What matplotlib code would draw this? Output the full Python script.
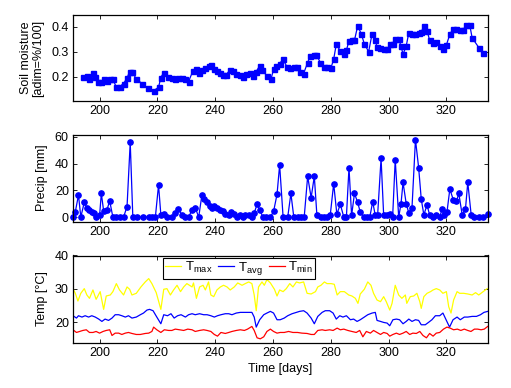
import matplotlib
matplotlib.use("Agg")
import matplotlib.pyplot as plt

plt.rcParams['font.family'] = ['Liberation Sans', 'DejaVu Sans']
plt.rcParams['font.size'] = 9
plt.rcParams['mathtext.fontset'] = 'custom'
plt.rcParams['mathtext.rm'] = 'Liberation Sans'

# ---------------- data ----------------
soil_day = [194.2, 195.6, 196.5, 197.6, 198.5, 199.4, 200.5, 201.4, 202.5, 203.5, 204.6, 205.8, 206.9,
            208.3, 209.5, 210.4, 211.3, 212.7, 214.7, 216.6, 218.7, 220.4, 221.2, 222.2, 223.5, 225.0,
            226.2, 227.3, 228.5, 229.7, 230.8, 232.3, 233.3, 234.3, 235.4, 236.6, 237.7, 238.5, 239.5,
            240.6, 241.5, 242.7, 243.8, 245.0, 246.2, 247.3, 248.5, 249.6, 250.8, 251.9, 253.1, 254.2,
            255.4, 256.2, 257.9, 259.3, 260.2, 261.2, 262.3, 263.5, 264.8, 266.0, 267.2, 268.3, 269.2,
            270.6, 272.0, 272.9, 274.1, 275.0, 276.4, 277.8, 278.7, 280.1, 281.0, 281.9, 283.3, 284.5,
            285.4, 286.3, 287.3, 288.2, 289.3, 290.5, 291.6, 293.1, 294.3, 295.4, 296.0, 297.2, 298.3,
            299.5, 300.6, 301.5, 302.3, 303.5, 304.3, 305.0, 306.1, 307.0, 308.1, 309.3, 310.4, 311.3,
            312.2, 313.3, 314.2, 315.4, 316.5, 317.7, 318.8, 320.0, 321.2, 322.4, 323.5, 324.6, 325.8,
            326.9, 328.1, 328.9, 331.2, 332.7]
soil_val = [0.200, 0.204, 0.190, 0.217, 0.200, 0.178, 0.178, 0.190, 0.184, 0.190, 0.190, 0.158, 0.160,
            0.173, 0.195, 0.221, 0.221, 0.190, 0.173, 0.155, 0.144, 0.158, 0.197, 0.217, 0.200, 0.197,
            0.190, 0.195, 0.195, 0.190, 0.181, 0.224, 0.230, 0.217, 0.226, 0.234, 0.244, 0.246, 0.230,
            0.224, 0.217, 0.208, 0.208, 0.226, 0.224, 0.213, 0.208, 0.200, 0.213, 0.217, 0.204, 0.221,
            0.244, 0.226, 0.204, 0.190, 0.230, 0.244, 0.253, 0.270, 0.240, 0.237, 0.240, 0.240, 0.221,
            0.213, 0.257, 0.283, 0.287, 0.287, 0.257, 0.240, 0.240, 0.237, 0.270, 0.330, 0.303, 0.293,
            0.306, 0.343, 0.346, 0.346, 0.403, 0.373, 0.332, 0.300, 0.372, 0.346, 0.319, 0.314, 0.310,
            0.310, 0.330, 0.330, 0.350, 0.350, 0.323, 0.290, 0.323, 0.376, 0.370, 0.373, 0.376, 0.379,
            0.403, 0.385, 0.346, 0.336, 0.340, 0.323, 0.310, 0.327, 0.370, 0.393, 0.393, 0.389, 0.389,
            0.406, 0.406, 0.356, 0.317, 0.297]

precip_day = [190.8, 191.6, 192.7, 193.5, 194.7, 195.6, 196.5, 197.3, 198.2, 198.8, 200.0, 200.6, 201.4,
              202.5, 203.5, 204.6, 205.8, 207.2, 208.3, 209.5, 210.6, 211.5, 212.9, 215.0, 217.0, 218.1,
              219.3, 220.4, 221.2, 222.2, 223.3, 225.0, 226.2, 227.3, 228.5, 229.7, 230.8, 232.0, 233.1,
              234.3, 235.4, 236.2, 237.2, 238.1, 238.9, 239.7, 240.6, 241.5, 242.7, 243.5, 244.7, 245.5,
              246.4, 247.5, 248.5, 249.6, 250.4, 251.6, 252.7, 253.5, 254.5, 255.4, 256.5, 257.7, 259.1,
              260.2, 261.4, 262.3, 263.5, 265.1, 266.2, 267.2, 268.5, 269.7, 270.8, 272.0, 273.2, 274.3,
              275.2, 276.6, 277.8, 278.7, 279.8, 281.0, 282.1, 283.3, 284.5, 285.4, 286.3, 287.2, 288.2,
              289.3, 290.2, 291.4, 292.5, 293.5, 294.5, 295.4, 296.2, 297.4, 298.3, 299.5, 300.6, 301.4,
              302.3, 303.5, 304.3, 305.0, 306.1, 307.0, 308.1, 309.3, 310.4, 311.3, 312.2, 313.3, 314.2,
              315.4, 316.5, 317.7, 318.5, 319.3, 320.2, 321.2, 322.4, 323.5, 324.3, 325.5, 326.6, 327.4,
              328.6, 329.5, 331.2, 332.7, 334.3]
precip_val = [0, 4, 16.5, 0, 11, 7, 5.4, 3.7, 3, 0, 1.2, 17.7, 4.7,
              5.2, 12, 0, 0, 0, 0, 7.9, 56, 0, 0, 0, 0, 0,
              0, 24, 1.7, 2.2, 0, 0, 3, 6, 1.7, 0, 0, 5.4, 7,
              0, 16.5, 13.5, 11, 8.4, 7, 8.6, 7, 5.4, 4.2, 2.2, 1.2, 3.7,
              2.2, 0, 1.7, 0, 1.7, 1.2, 0, 3, 9.6, 5.4, 0, 0, 0,
              4.2, 17, 39, 0, 0, 17.7, 0, 0, 0, 0, 30.5, 14.5, 30.5,
              1.2, 0, 0, 0, 1.2, 25, 2.2, 9.6, 0, 0, 37, 1.2, 17.7,
              11, 3.7, 0, 0, 0, 11.5, 1.2, 1.2, 44, 1.2, 1.2, 2.2, 0,
              43, 0, 10, 26, 10, 3, 7, 58, 37, 13.5, 1.7, 9, 1.7,
              0, 1.2, 0, 6, 1.2, 3.7, 21, 12.8, 12, 17.7, 1.2, 6, 26,
              1.2, 0, 0, 0, 2.2]

tmax_day = [190.8, 191.6, 192.5, 193.5, 194.7, 195.6, 196.5, 197.7, 198.8, 200.2, 201.4, 202.3, 203.7,
            204.6, 205.8, 206.9, 208.3, 209.5, 210.4, 211.2, 212.7, 214.3, 215.8, 217.0, 218.1, 219.6,
            221.2, 222.2, 223.3, 224.5, 225.6, 226.8, 228.0, 229.1, 230.2, 232.0, 232.5, 233.5, 234.6,
            235.8, 236.6, 237.7, 238.5, 239.5, 240.6, 241.8, 242.9, 244.1, 245.2, 246.6, 247.8, 249.3,
            250.4, 251.6, 252.7, 253.5, 254.2, 255.0, 256.2, 257.0, 257.9, 259.1, 260.5, 261.4, 262.3,
            263.5, 264.6, 265.8, 266.9, 268.1, 269.2, 270.6, 271.8, 273.2, 274.7, 275.5, 276.6, 277.8,
            278.7, 280.1, 281.2, 282.2, 283.3, 284.7, 286.2, 287.3, 288.5, 289.4, 290.2, 291.6, 292.8,
            293.9, 294.8, 296.0, 297.2, 298.3, 299.2, 300.4, 301.2, 302.3, 303.5, 304.6, 305.8, 306.3,
            307.5, 308.7, 309.8, 310.8, 311.3, 312.2, 313.3, 314.5, 315.4, 316.5, 317.7, 318.8, 320.0,
            320.8, 321.6, 322.5, 323.7, 324.6, 326.0, 327.4, 328.9, 330.1, 331.2, 332.7, 334.1]
tmax_val = [30.1, 28.7, 26.4, 28.7, 30.1, 28.2, 27.2, 29.7, 26.9, 29.2, 23.9, 27.9, 28.2,
            29.2, 31.6, 29.7, 28.2, 30.6, 29.9, 28.2, 28.7, 30.6, 32.1, 33.1, 31.6, 28.9,
            23.9, 29.9, 30.1, 28.2, 29.7, 31.1, 29.2, 30.6, 31.6, 30.6, 31.8, 27.2, 30.6,
            31.1, 29.7, 32.1, 28.2, 27.7, 29.7, 30.6, 31.1, 30.6, 29.7, 30.6, 31.8, 31.1,
            31.6, 32.1, 31.6, 28.2, 23.5, 30.6, 32.1, 31.1, 32.8, 31.8, 29.9, 27.9, 29.7,
            29.2, 30.1, 31.6, 30.6, 32.1, 31.8, 32.1, 28.7, 28.5, 29.2, 30.6, 31.1, 32.1,
            31.6, 31.6, 31.4, 28.2, 29.2, 29.2, 28.2, 27.9, 27.2, 25.7, 28.5, 29.9, 32.1,
            31.1, 28.7, 26.7, 26.2, 27.7, 26.2, 23.7, 25.7, 31.1, 28.2, 27.2, 28.2, 25.7,
            27.7, 27.9, 28.7, 26.2, 24.2, 27.7, 28.7, 29.2, 29.7, 30.1, 29.7, 28.7, 29.2,
            24.7, 22.8, 26.7, 29.2, 28.7, 28.7, 28.5, 28.2, 28.9, 28.2, 29.2, 30.1]

tavg_day = [190.8, 192.0, 192.7, 193.9, 195.0, 196.2, 197.3, 198.5, 199.7, 200.8, 201.9, 203.1, 204.3,
            205.4, 206.6, 207.7, 208.9, 210.0, 211.2, 212.7, 214.1, 215.2, 216.4, 217.3, 218.5, 219.8,
            221.2, 222.2, 223.5, 224.7, 225.8, 227.0, 228.2, 229.7, 230.8, 232.0, 233.1, 234.6, 236.0,
            237.2, 238.5, 239.7, 240.8, 242.0, 243.5, 244.7, 245.8, 247.3, 248.7, 249.8, 251.2, 252.7,
            253.5, 254.2, 255.4, 256.8, 257.9, 259.1, 260.2, 261.4, 262.5, 263.9, 265.1, 266.6, 268.1,
            269.2, 270.6, 271.8, 273.2, 274.3, 275.5, 277.0, 278.1, 279.6, 280.8, 281.9, 283.1, 284.2,
            285.4, 286.8, 287.9, 289.1, 290.2, 291.6, 292.8, 294.3, 295.4, 296.0, 297.2, 298.3, 299.5,
            300.4, 301.5, 302.7, 303.8, 305.0, 306.1, 307.0, 308.1, 309.3, 310.4, 311.3, 312.7, 313.8,
            315.0, 316.2, 317.7, 318.8, 320.0, 321.1, 322.3, 323.7, 324.8, 326.2, 327.4, 328.9, 330.4,
            331.8, 333.0, 334.3]
tavg_val = [22.0, 21.3, 22.0, 21.6, 22.0, 21.6, 22.0, 21.6, 21.0, 20.3, 21.0, 20.6, 21.3,
            22.3, 22.3, 22.0, 21.6, 22.0, 21.3, 21.6, 22.3, 22.8, 23.7, 23.9, 23.5, 21.6,
            19.6, 22.3, 22.0, 22.6, 21.3, 22.0, 22.3, 21.6, 22.3, 22.6, 22.3, 22.6, 22.3,
            22.3, 22.0, 21.6, 22.0, 22.3, 22.6, 22.6, 22.3, 22.8, 23.0, 23.0, 23.0, 23.0,
            21.6, 18.6, 20.8, 22.3, 22.8, 23.3, 22.8, 20.8, 20.8, 21.3, 22.0, 22.6, 23.0,
            23.3, 23.5, 22.8, 21.3, 19.6, 21.8, 23.0, 23.5, 23.5, 22.8, 21.0, 22.0, 21.6,
            22.0, 20.8, 21.0, 20.3, 20.8, 21.6, 22.3, 22.8, 23.0, 20.6, 20.3, 20.0, 19.8,
            19.0, 20.8, 21.0, 20.8, 19.6, 20.3, 21.0, 20.3, 20.8, 20.6, 19.3, 19.3, 20.0,
            20.8, 22.0, 22.0, 22.8, 20.6, 18.6, 20.8, 21.6, 20.8, 21.6, 21.6, 21.8, 21.8,
            22.3, 23.0, 23.3]

tmin_day = [190.8, 192.0, 193.1, 194.2, 195.4, 196.5, 197.7, 198.8, 200.0, 201.2, 202.3, 203.5, 204.3,
            205.4, 206.6, 207.7, 208.9, 210.0, 211.2, 212.7, 214.1, 215.8, 217.0, 218.1, 218.7, 219.8,
            221.2, 222.4, 223.9, 225.0, 226.2, 227.7, 229.1, 230.5, 232.0, 233.1, 234.6, 236.0, 237.2,
            238.5, 239.7, 240.8, 242.0, 243.5, 244.7, 245.8, 247.3, 248.7, 250.1, 251.2, 252.7, 253.5,
            254.5, 255.6, 256.8, 257.9, 259.1, 260.2, 261.4, 262.5, 263.9, 265.4, 266.9, 268.5, 270.0,
            271.8, 273.2, 274.3, 275.5, 277.0, 278.1, 279.6, 280.8, 282.2, 283.3, 284.5, 285.9, 287.3,
            288.8, 290.0, 291.1, 292.3, 293.7, 294.8, 296.0, 297.2, 298.3, 299.5, 300.4, 301.5, 302.7,
            303.8, 305.0, 306.1, 307.3, 308.4, 309.6, 310.8, 311.9, 313.1, 314.2, 315.4, 316.5, 317.7,
            319.0, 320.2, 321.3, 322.5, 323.8, 325.0, 326.2, 327.4, 328.5, 329.7, 330.8, 332.0, 333.1,
            334.3]
tmin_val = [17.8, 17.0, 17.3, 17.6, 17.8, 17.0, 17.0, 17.3, 16.8, 17.3, 17.6, 17.8, 16.1,
            16.8, 16.8, 16.4, 16.8, 17.0, 16.7, 16.4, 16.4, 16.7, 16.8, 17.3, 18.6, 17.8,
            17.0, 17.8, 17.6, 17.6, 18.0, 17.8, 17.6, 18.0, 17.8, 17.3, 17.6, 17.8, 17.6,
            17.3, 16.4, 15.9, 17.0, 16.7, 17.0, 17.3, 17.6, 17.8, 17.6, 18.0, 18.8, 17.6,
            15.4, 15.1, 15.7, 17.3, 18.0, 17.3, 16.8, 17.0, 17.0, 17.3, 17.0, 17.0, 16.8,
            16.7, 16.4, 16.4, 17.6, 17.8, 17.6, 17.8, 17.6, 18.3, 17.8, 18.0, 17.6, 17.3,
            17.0, 17.6, 15.7, 17.3, 16.8, 17.6, 17.0, 16.4, 17.0, 16.7, 15.9, 16.4, 16.8,
            16.4, 16.8, 17.3, 16.4, 16.8, 16.7, 17.3, 16.1, 15.4, 16.7, 15.9, 16.8, 17.0,
            18.0, 18.6, 18.3, 17.8, 18.0, 17.6, 18.0, 17.6, 17.3, 18.0, 18.0, 17.8, 18.0,
            18.8]

x_ticks = [200, 220, 240, 260, 280, 300, 320]
soil_ticks = [0.2, 0.3, 0.4]
soil_ticklabels = ['0.2', '0.3', '0.4']
precip_ticks = [0, 20, 40, 60]
temp_ticks = [20, 30, 40]
legend_labels = [r'T$_{\mathrm{max}}$', r'T$_{\mathrm{avg}}$', r'T$_{\mathrm{min}}$']

# ---------------- figure ----------------
W, H = 511, 388
fig = plt.figure(figsize=(W / 100, H / 100), dpi=100)

def px_axes(x0, y0, x1, y1):
    return fig.add_axes([x0 / W, 1 - y1 / H, (x1 - x0) / W, (y1 - y0) / H])

ax1 = px_axes(73, 15, 488, 101)
ax2 = px_axes(73, 134.5, 488, 221.5)
ax3 = px_axes(73, 255.5, 488, 342.5)

for ax in (ax1, ax2, ax3):
    ax.set_xlim(190.8, 334.4)
    ax.set_xticks(x_ticks)
    ax.tick_params(direction='in', top=True, right=True, length=3, width=0.6,
                   labelsize=9, pad=3)
    for s in ax.spines.values():
        s.set_linewidth(0.9)

ax1.plot(soil_day, soil_val, '-s', color='blue', lw=0.9, ms=3.6, mec='blue', mfc='blue')
ax1.set_ylim(0.103, 0.447)
ax1.set_yticks(soil_ticks)
ax1.set_yticklabels(soil_ticklabels)
ax1.set_ylabel('Soil moisture\n[adim=%/100]', fontsize=9, labelpad=5, linespacing=1.1)

ax2.plot(precip_day, precip_val, '-o', color='blue', lw=0.9, ms=3.8, mec='blue', mfc='blue',
         clip_on=False)
ax2.set_ylim(-3.3, 61.8)
ax2.set_yticks(precip_ticks)
ax2.set_ylabel('Precip [mm]', fontsize=9, labelpad=5)

l1, = ax3.plot(tmax_day, tmax_val, color='yellow', lw=0.9)
l2, = ax3.plot(tavg_day, tavg_val, color='blue', lw=0.9)
l3, = ax3.plot(tmin_day, tmin_val, color='red', lw=0.9)
ax3.set_ylim(14, 40)
ax3.set_yticks(temp_ticks)
ax3.set_ylabel('Temp [°C]', fontsize=9, labelpad=5)
ax3.set_xlabel('Time [days]', fontsize=9, labelpad=3)

leg = ax3.legend([l1, l2, l3], legend_labels, ncol=3, loc='upper left',
                 bbox_to_anchor=(0.217, 0.97), borderaxespad=0, fontsize=9.5,
                 frameon=True, fancybox=False, edgecolor='black', framealpha=1,
                 handlelength=1.2, handletextpad=0.3, columnspacing=0.45,
                 borderpad=0.15)
leg.get_frame().set_linewidth(0.8)

fig.savefig('out.png', dpi=100)
